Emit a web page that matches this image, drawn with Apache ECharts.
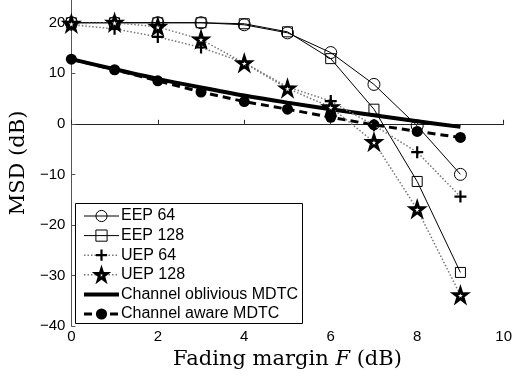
<!DOCTYPE html>
<html><head><meta charset="utf-8">
<script src="https://cdn.jsdelivr.net/npm/echarts@6/dist/echarts.min.js"></script>
<style>html,body{margin:0;padding:0;background:#fff}#c{width:515px;height:383px}</style>
</head><body><div id="c"></div>
<script>
const xValues = [0,1,2,3,4,5,6,7,8,9];
const eep64 = [20,20,20,20,19.6,18,14.1,7.8,-0.4,-10];
const eep128 = [20,20,20,20,19.8,18.2,12.9,2.9,-11.4,-29.4];
const uep64 = [19.6,18.8,17.2,15.1,12.1,7.3,4.5,-0.3,-5.6,-14.4];
const uep128 = [19.8,20,19.2,16.7,12,7,3.3,-3.6,-16.9,-33.9];
const oblivious = [12.8,10.8,8.9,7.2,5.6,4.2,2.9,1.7,0.5,-0.6];
const aware = [12.8,10.7,8.5,6.3,4.4,2.9,1.3,-0.2,-1.5,-2.7];
const yTicks = [-40,-30,-20,-10,0,10,20];
const xTicks = [0,2,4,6,8,10];
const names = ['EEP 64','EEP 128','UEP 64','UEP 128','Channel oblivious MDTC','Channel aware MDTC'];

const pair = a => a.map((v,i)=>[xValues[i], v]);
const star = 'path://M50,0 L61.8,35.1 L98.9,35.1 L68.9,56.9 L80.3,92.1 L50,70.4 L19.7,92.1 L31.1,56.9 L1.1,35.1 L38.2,35.1 Z';
const plus = 'path://M0,50 L100,50 M50,0 L50,100';
const fmt = v => String(v).replace('-', '\u2212');

const chart = echarts.init(document.getElementById('c'));
chart.setOption({
  animation: false,
  grid: {left: 70, right: 8, top: 0, bottom: 57},
  xAxis: {
    type: 'value', min: 0, max: 10, interval: 2,
    axisLine: {show: true, lineStyle: {color: '#222', width: 1}},
    axisTick: {show: true, inside: true, length: 4, lineStyle: {color: '#222'}},
    splitLine: {show: false},
    axisLabel: {color: '#000', fontFamily: 'Liberation Sans', fontSize: 15, margin: 3, formatter: fmt},
    name: '{r|Fading margin }{i|F}{r| (dB)}',
    nameLocation: 'middle', nameGap: 17,
    nameTextStyle: {rich: {
      r: {fontFamily: 'DejaVu Serif', fontSize: 21, color: '#000'},
      i: {fontFamily: 'DejaVu Serif', fontStyle: 'italic', fontSize: 21, color: '#000'}
    }}
  },
  yAxis: {
    type: 'value', min: -40, max: 24.5, interval: 10,
    axisLine: {show: true, lineStyle: {color: '#555', width: 1}},
    axisTick: {show: true, inside: true, length: 4, lineStyle: {color: '#555'}, customValues: yTicks},
    splitLine: {show: false},
    axisLabel: {color: '#000', fontFamily: 'Liberation Sans', fontSize: 15, margin: 6, customValues: yTicks, formatter: fmt},
    name: 'MSD (dB)', nameLocation: 'middle', nameGap: 37,
    nameTextStyle: {fontFamily: 'DejaVu Serif', fontSize: 21, color: '#000'}
  },
  legend: {
    orient: 'vertical', left: 82, top: 208, padding: 0, itemGap: 3.6, itemWidth: 35, itemHeight: 14,
    data: names.map((n, i) => i === 4 ? {name: n, itemStyle: {opacity: 0}} : {name: n}),
    lineStyle: {width: 'inherit'},
    itemStyle: {borderWidth: 'inherit'},
    textStyle: {fontFamily: 'Liberation Sans', fontSize: 16, lineHeight: 14, color: '#000', padding: [0,0,0,-3]},
    backgroundColor: 'transparent'
  },
  graphic: [{type: 'rect', shape: {x: 75.5, y: 203.5, width: 227, height: 120}, style: {fill: 'none', stroke: '#000', lineWidth: 1}, z: 100}],
  series: [
    {name: names[0], type: 'line', data: pair(eep64), symbol: 'circle', symbolSize: 12,
     lineStyle: {color: '#000', width: 1}, itemStyle: {color: 'rgba(255,255,255,0)', borderColor: '#000', borderWidth: 1}, z: 3},
    {name: names[1], type: 'line', data: pair(eep128), symbol: 'rect', symbolSize: 10,
     lineStyle: {color: '#000', width: 1}, itemStyle: {color: 'rgba(255,255,255,0)', borderColor: '#000', borderWidth: 1}, z: 3},
    {name: names[2], type: 'line', data: pair(uep64), symbol: plus, symbolSize: 12,
     lineStyle: {color: '#777', width: 1.5, type: [1.5,2]}, itemStyle: {color: '#000', borderColor: '#000', borderWidth: 2.2}, z: 4},
    {name: names[3], type: 'line', data: pair(uep128), symbol: star, symbolSize: 13,
     lineStyle: {color: '#777', width: 1.5, type: [1.5,2]}, itemStyle: {color: '#fff', borderColor: '#000', borderWidth: 2.8}, z: 4},
    {name: names[4], type: 'line', data: pair(oblivious), symbol: 'none', smooth: 0.3,
     lineStyle: {color: '#000', width: 4}, itemStyle: {color: '#000'}, z: 2},
    {name: names[5], type: 'line', data: pair(aware), symbol: 'circle', symbolSize: 11,
     lineStyle: {color: '#000', width: 3, type: [8,5]}, itemStyle: {color: '#000', borderWidth: 0}, z: 2}
  ]
});
</script></body></html>
